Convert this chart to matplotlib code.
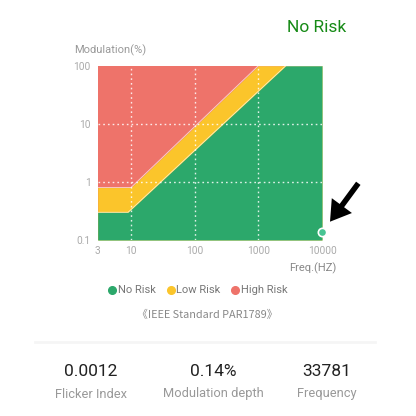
import matplotlib
matplotlib.use("Agg")
import matplotlib.pyplot as plt
from matplotlib.patches import FancyArrow
from matplotlib.lines import Line2D
from matplotlib.transforms import IdentityTransform

plt.rcParams['font.family'] = ['Roboto', 'DejaVu Sans']

# ---- data ----
x_ticks = [3, 10, 100, 1000, 10000]
x_tick_labels = ["3", "10", "100", "1000", "10000"]
y_ticks = [0.1, 1, 10, 100]
y_tick_labels = ["0.1", "1", "10", "100"]

# risk boundaries (IEEE PAR1789), frequency in Hz, modulation in %
low_risk_freq = [3, 10, 1000, 10000]
low_risk_mod = [0.8, 0.8, 100, 100]
no_risk_freq = [3, 9, 2700, 10000]
no_risk_mod = [0.3, 0.3, 100, 100]

measured_freq = 33781
measured_mod = 0.14
stats_values = ["0.0012", "0.14%", "33781"]
stats_labels = ["Flicker Index", "Modulation depth", "Frequency"]
legend_labels = ["No Risk", "Low Risk", "High Risk"]

RED = "#EE736A"
YELLOW = "#FBC52B"
GREEN = "#2CA86B"
POINT = "#48C493"

W = H = 416
fig = plt.figure(figsize=(4.16, 4.16), dpi=100)
fig.patch.set_facecolor("white")

def fx(px):
    return px / W

def fy(py):
    return 1 - py / H

ax = fig.add_axes([fx(97.7), fy(240), fx(322) - fx(97.7), fy(65.7) - fy(240)])
ax.set_xscale("log")
ax.set_yscale("log")
ax.set_xlim(3, 10000)
ax.set_ylim(0.1, 100)

ax.fill_between([3, 10000], 0.1, 100, color=RED, lw=0, zorder=1)
ax.fill_between(low_risk_freq, 0.1, low_risk_mod, color=YELLOW, lw=0, zorder=2)
ax.fill_between(no_risk_freq, 0.1, no_risk_mod, color=GREEN, lw=0, zorder=3)
ax.plot(low_risk_freq, low_risk_mod, color="white", lw=0.6, alpha=0.7, zorder=4)
ax.plot(no_risk_freq, no_risk_mod, color="white", lw=0.6, alpha=0.7, zorder=4)

for xv in [10, 100, 1000]:
    ax.axvline(xv, color="white", lw=1.0, ls=(0, (1.2, 2.2)), alpha=0.85, zorder=5)
for yv in [1, 10]:
    ax.axhline(yv, color="white", lw=1.0, ls=(0, (1.2, 2.2)), alpha=0.85, zorder=5)

ax.plot([min(measured_freq, 10000)], [measured_mod], "o", ms=6, mfc=POINT,
        mec="white", mew=1.2, clip_on=False, zorder=10)

ax.xaxis.set_major_locator(matplotlib.ticker.FixedLocator(x_ticks))
ax.set_xticklabels(x_tick_labels)
ax.yaxis.set_major_locator(matplotlib.ticker.FixedLocator(y_ticks))
ax.set_yticklabels(y_tick_labels)
ax.xaxis.set_minor_locator(matplotlib.ticker.NullLocator())
ax.yaxis.set_minor_locator(matplotlib.ticker.NullLocator())
ax.tick_params(length=0, labelsize=7.3, labelcolor="#AAAAAA")
ax.tick_params(axis="x", pad=4)
ax.tick_params(axis="y", pad=5)
for s in ax.spines.values():
    s.set_visible(False)

# texts
fig.text(fx(317), fy(27), "No Risk", color="#168A16", fontsize=12.5,
         ha="center", va="center")
fig.text(fx(74), fy(50), "Modulation(%)", color="#999999", fontsize=8,
         ha="left", va="center")
fig.text(fx(336), fy(268), "Freq.(HZ)", color="#888888", fontsize=8,
         ha="right", va="center")

# legend
leg_items = [(112, GREEN, legend_labels[0]), (170.5, YELLOW, legend_labels[1]),
             (235, RED, legend_labels[2])]
for x0, c, lab in leg_items:
    fig.add_artist(Line2D([fx(x0)], [fy(290)], marker="o", ms=5.5, color=c,
                          mec=c, lw=0, transform=fig.transFigure))
    fig.text(fx(x0 + 6), fy(290), lab, color="#777777", fontsize=8,
             ha="left", va="center")

fig.text(fx(207), fy(315), "《IEEE Standard PAR1789》", color="#888888",
         fontsize=7.8, ha="center", va="center",
         family=["Noto Sans CJK SC", "Roboto", "DejaVu Sans"])

# separator
fig.add_artist(Line2D([fx(35), fx(375)], [fy(342), fy(342)], color="#F5F5F5",
                      lw=2, transform=fig.transFigure))

# stats
for cx, v, lab in zip([91, 213, 327], stats_values, stats_labels):
    fig.text(fx(cx), fy(372), v, color="#222222", fontsize=12.5,
             ha="center", va="center")
    fig.text(fx(cx), fy(394), lab, color="#999999", fontsize=9.3,
             ha="center", va="center")

# arrow (figure pixel coordinates, y up)
arr = FancyArrow(358.3, H - 183.3, -28.3, -38.4, width=5.5, head_width=25,
                 head_length=20, length_includes_head=True,
                 transform=IdentityTransform(), color="black", lw=0)
fig.add_artist(arr)

fig.savefig("out.png", dpi=100, facecolor="white")
